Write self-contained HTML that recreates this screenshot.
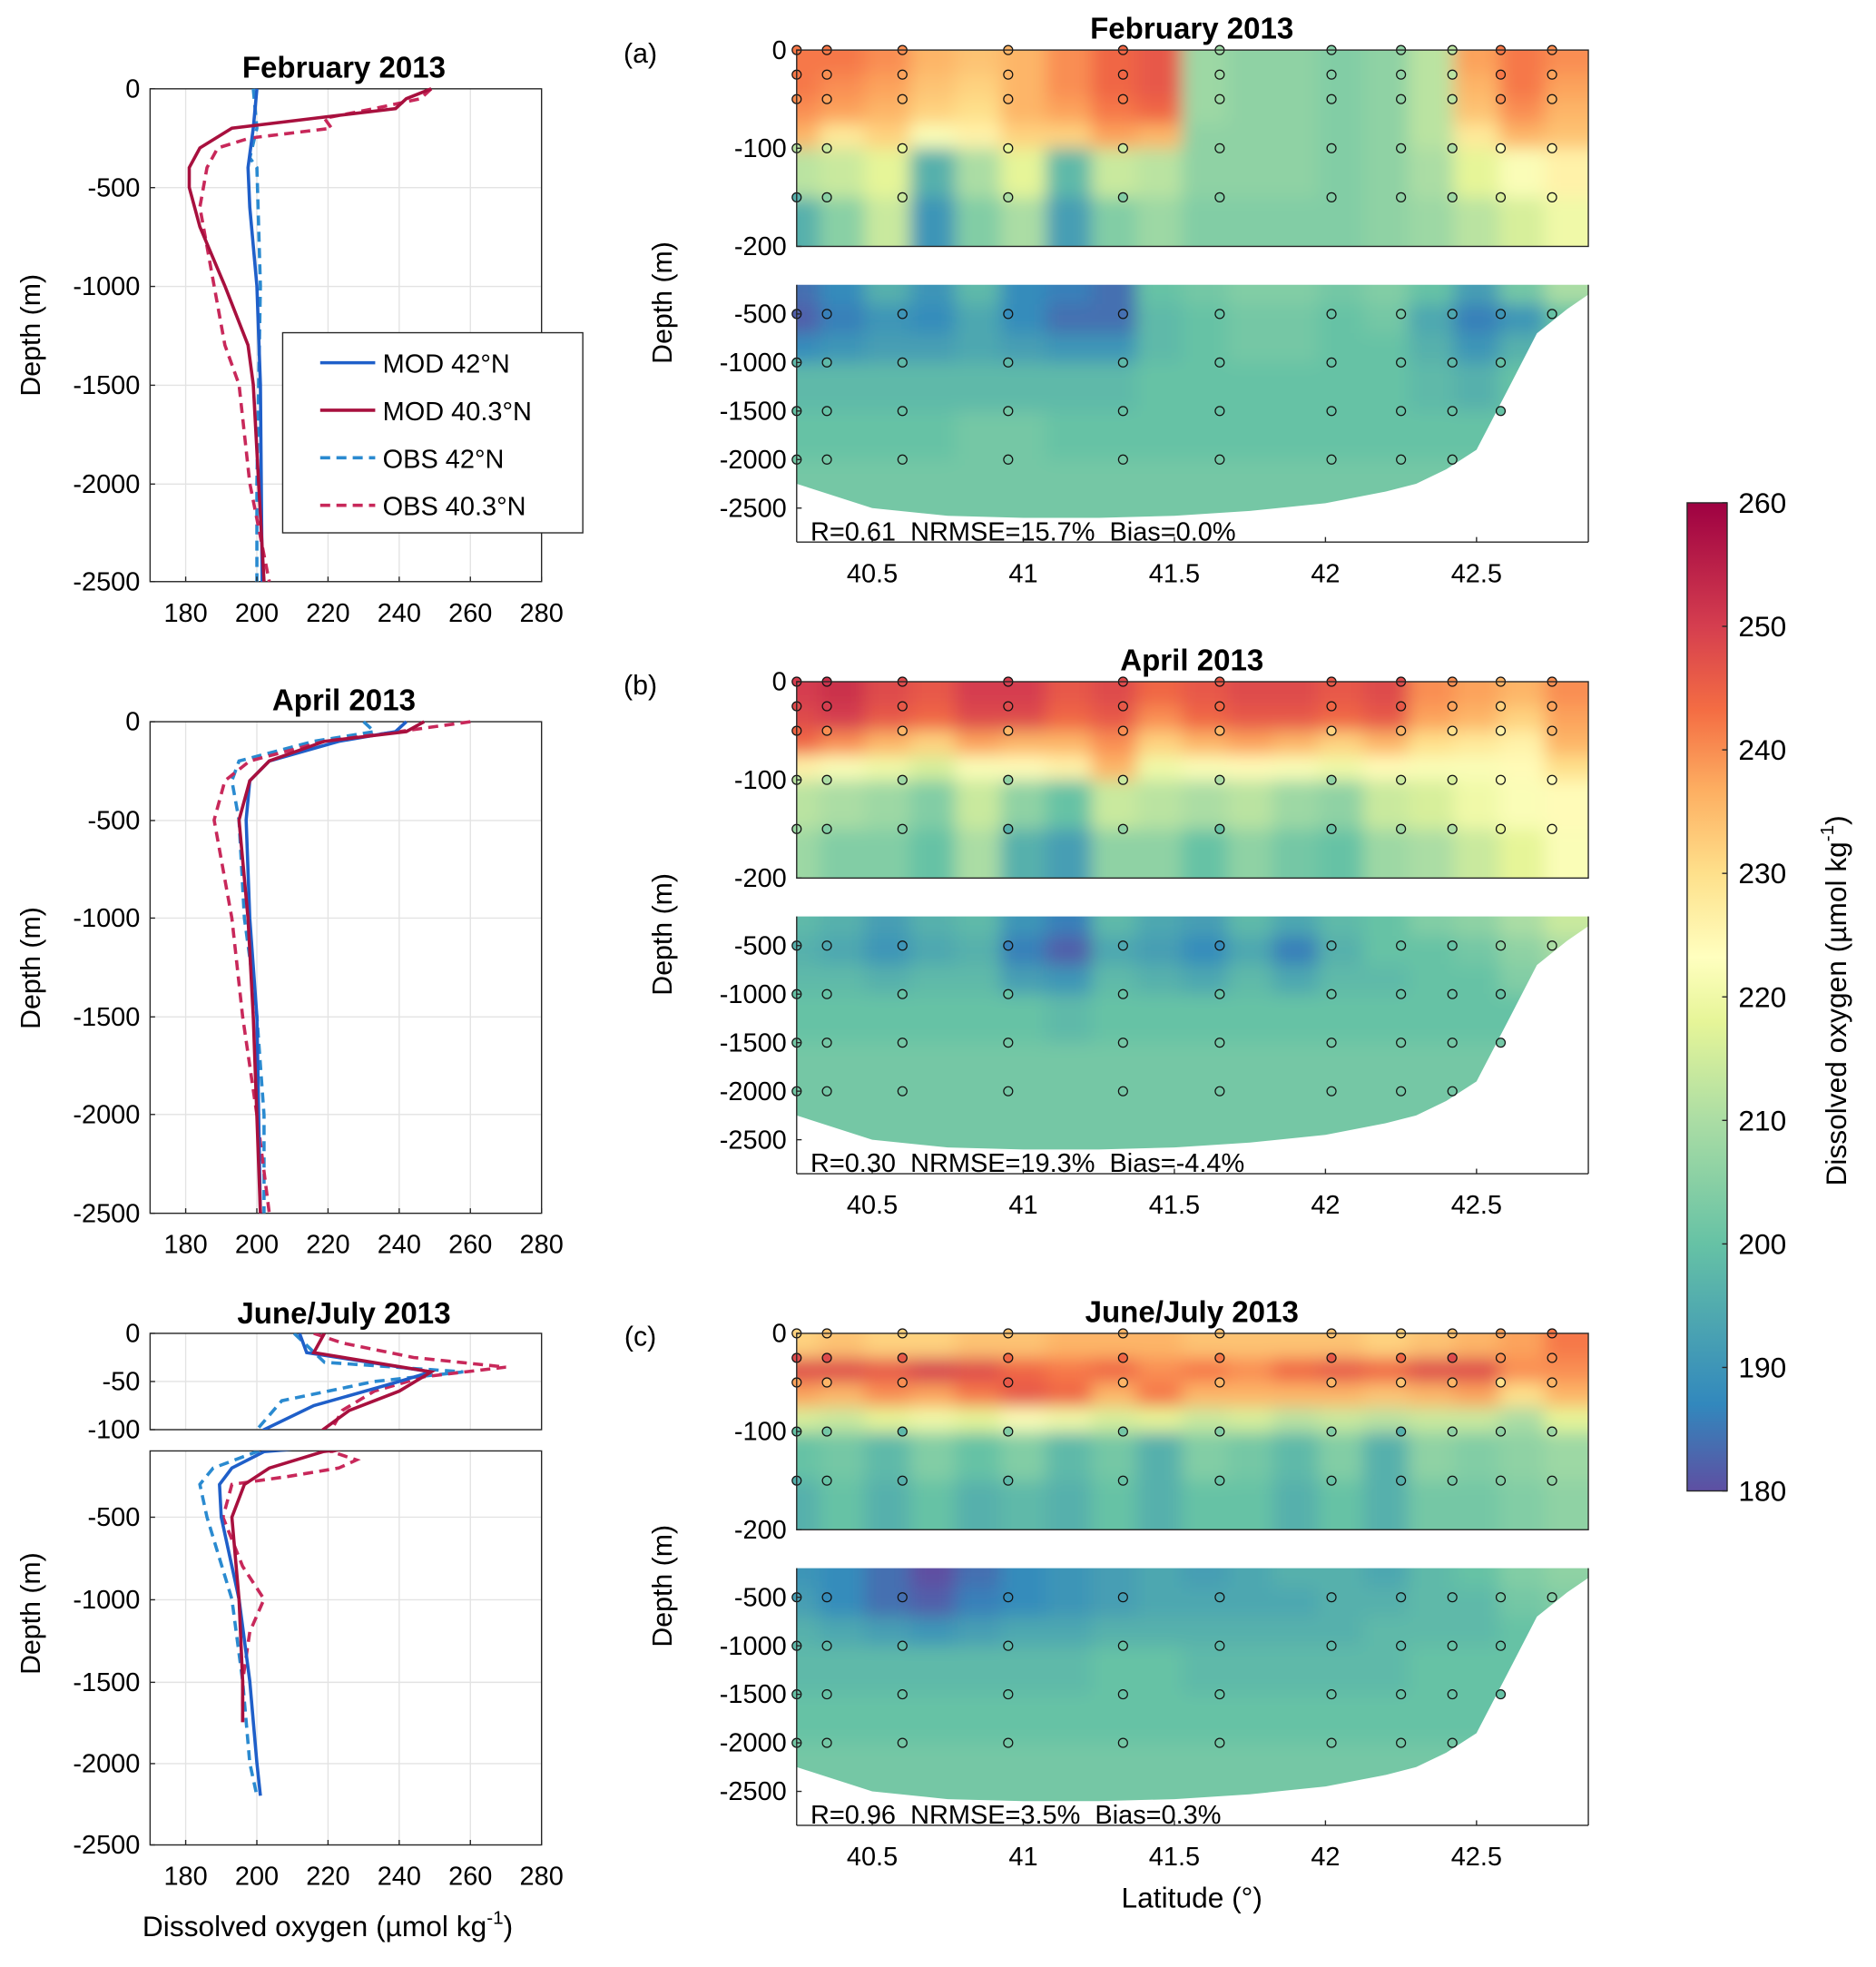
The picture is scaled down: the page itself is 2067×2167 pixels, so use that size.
<!DOCTYPE html>
<html><head><meta charset="utf-8">
<style>
html,body{margin:0;padding:0;background:#fff;overflow:hidden;width:2067px;height:2167px;}
svg{display:block;font-family:"Liberation Sans",Arial,sans-serif;}
text{white-space:pre;}
</style></head>
<body>
<svg id="fig" width="2067" height="2167" viewBox="0 0 1500 1572.6" xmlns="http://www.w3.org/2000/svg">
<defs>
<filter id="blur" x="-5%" y="-5%" width="110%" height="110%"><feGaussianBlur stdDeviation="7"/></filter>
<linearGradient id="cbgrad" x1="0" y1="1" x2="0" y2="0">
<stop offset="0" stop-color="#5e4fa2"/><stop offset="0.0875" stop-color="#3288bd"/><stop offset="0.25" stop-color="#66c2a5"/><stop offset="0.375" stop-color="#abdda4"/><stop offset="0.475" stop-color="#e6f598"/><stop offset="0.54" stop-color="#ffffbf"/><stop offset="0.625" stop-color="#fee08b"/><stop offset="0.71" stop-color="#fdae61"/><stop offset="0.79" stop-color="#f46d43"/><stop offset="0.875" stop-color="#d53e4f"/><stop offset="1" stop-color="#9e0142"/>
</linearGradient>
</defs>
</svg>
<script>
// ---------- DATA ----------
const feb_mod42_d=[0,200,400,600,1000,1500,2500], feb_mod42_v=[200,199,197.5,198,200,201,201.5];
const feb_mod40_d=[0,50,100,150,200,300,400,500,700,1000,1300,1500,2000,2500], feb_mod40_v=[249,242,239,216,193,184,181,181,184,191,197.5,199,200.5,202];
const feb_obs42_d=[0,200,350,400,1000,2000,2500], feb_obs42_v=[199,200,198,200,201,200,200];
const feb_obs40_d=[0,50,100,150,200,250,300,400,600,800,1000,1300,1500,2000,2500], feb_obs40_v=[249,246,233,219,221,198,189,186,184,186,188,191,195,198,203.5];
const apr_mod42_d=[0,50,100,200,300,500,1000,1500,2500], apr_mod42_v=[242,239,223,203.5,198,197,198,200,201];
const apr_mod40_d=[0,50,100,200,300,500,1000,1500,2500], apr_mod40_v=[247,242,219,203.5,198,195,197.5,199,201];
const apr_obs42_d=[0,50,100,200,300,500,1000,1200,1500,2000,2500], apr_obs42_v=[230,233,216,195,193,195,196.5,198,200,202,202];
const apr_obs40_d=[0,50,100,200,300,500,1000,1500,2000,2500], apr_obs40_v=[260,240,219,198,191,188,193,196,200,203.5];
const jun_mod42_d=[0,20,40,50,75,100,200,300,500,1000,1500,2000,2200], jun_mod42_v=[212,214,249,240,216,202,193,189.5,190,195,198,200,201];
const jun_mod40_d=[0,20,40,60,80,100,200,300,500,1000,1500,1750], jun_mod40_v=[219,216,249,240,226,218.6,203.5,196.5,193,195,196,196];
const jun_obs42_d=[0,30,40,50,70,100,200,300,500,1000,1500,2000,2200], jun_obs42_v=[210.5,219,258,233,207,200,187.7,184,186,193,196,198,200];
const jun_obs40_d=[0,10,25,35,45,60,80,100,150,200,250,300,500,800,1000,1200,1500,1750], jun_obs40_v=[216,224,244,270,247,233,224,221,228,223,209,193,190.5,196,202,198,196,196];

const latC=[40.25,40.4,40.55,40.7,40.85,41.0,41.15,41.3,41.45,41.6,41.75,41.9,42.05,42.2,42.35,42.5,42.65,42.8];
const rowEdgesUp=[0,25,50,75,100,150,200];
const rowEdgesLow=[200,400,700,1000,1500,2000,2850];
const secFeb=[
[242,242,240,236,234,236,240,244,246,208,206,206,204,206,212,238,242,240],
[242,240,238,234,232,236,240,244,246,208,206,206,204,206,212,236,242,238],
[240,238,236,232,230,236,238,242,244,208,206,206,204,206,212,234,240,236],
[236,228,232,222,226,232,232,238,236,206,206,206,204,206,212,228,236,234],
[212,214,218,196,210,218,198,214,212,206,206,206,204,206,210,218,222,226],
[196,205,214,190,204,210,192,204,208,204,204,204,204,206,208,212,216,220],
[184,188,196,190,198,188,186,184,200,202,204,204,202,204,200,192,202,210],
[182,186,190,188,194,188,184,184,198,200,202,202,200,202,194,186,190,200],
[188,190,192,192,194,192,190,190,198,200,202,202,200,200,196,190,196,200],
[198,198,198,198,198,198,198,198,200,200,200,200,200,200,198,196,200,200],
[200,200,200,200,202,202,200,200,200,200,200,200,200,200,200,200,200,200],
[202,202,202,202,202,202,202,202,202,202,202,202,202,202,202,202,202,202]];
const secApr=[
[250,252,248,246,250,250,246,248,244,246,248,248,246,248,240,238,236,240],
[248,250,246,244,248,248,244,246,240,244,246,246,244,246,238,236,232,238],
[244,240,236,232,238,236,236,240,232,236,238,236,232,236,230,228,226,236],
[226,222,220,216,222,224,226,236,220,222,224,222,220,224,222,222,224,230],
[212,210,208,204,214,206,200,214,212,210,212,208,206,214,216,220,222,224],
[208,204,204,200,210,196,192,206,206,200,206,202,200,208,210,214,218,222],
[198,196,192,196,198,190,186,198,194,192,198,194,198,200,204,206,210,214],
[196,194,190,194,196,186,182,194,192,188,194,186,196,200,200,202,206,210],
[198,198,196,198,198,192,190,198,196,194,198,194,198,198,200,200,204,206],
[200,200,200,200,200,200,198,200,200,200,200,200,200,200,200,200,200,200],
[202,202,202,202,202,202,202,202,202,202,202,202,202,202,202,202,202,202],
[202,202,202,202,202,202,202,202,202,202,202,202,202,202,202,202,202,202]];
const secJun=[
[232,234,232,232,234,234,236,236,236,234,234,234,234,232,234,236,238,242],
[248,248,246,250,248,244,242,244,240,242,240,244,246,244,248,248,240,240],
[238,236,240,238,242,246,244,236,242,236,236,236,236,234,236,238,230,236],
[216,214,218,220,218,222,220,216,218,214,216,212,214,212,214,214,210,218],
[200,202,198,204,200,204,198,202,196,204,202,198,204,196,206,204,206,208],
[196,200,196,200,196,198,196,200,196,200,200,196,200,196,202,202,204,206],
[190,188,184,180,184,188,190,192,194,192,194,196,196,194,198,200,204,206],
[192,188,184,182,186,188,190,192,194,194,194,194,196,196,198,198,202,204],
[196,194,192,190,192,194,194,196,196,196,196,196,196,198,198,198,200,202],
[198,198,198,198,198,198,198,200,200,198,198,198,198,198,200,200,200,200],
[200,200,200,200,200,200,200,200,200,200,200,200,200,200,200,200,200,200],
[202,202,202,202,202,202,202,202,202,202,202,202,202,202,202,202,202,202]];
const bathLat=[40.25,40.3,40.5,40.75,41.0,41.25,41.5,41.75,42.0,42.2,42.3,42.4,42.5,42.6,42.7,42.8,42.87];
const bathDepth=[2250,2300,2500,2580,2600,2600,2580,2530,2450,2330,2250,2100,1900,1300,700,450,300];
const stLat=[40.25,40.35,40.6,40.95,41.33,41.65,42.02,42.25,42.42,42.58,42.75];
const stDepth=[0,25,50,100,150,500,1000,1500,2000];
const stats=["R=0.61  NRMSE=15.7%  Bias=0.0%","R=0.30  NRMSE=19.3%  Bias=-4.4%","R=0.96  NRMSE=3.5%  Bias=0.3%"];
const depthTicksUp=[0,-100,-200], depthTicksLow=[-500,-1000,-1500,-2000,-2500];
const latTicks=[40.5,41,41.5,42,42.5];
const xTicks=[180,200,220,240,260,280];
const cbTicks=[180,190,200,210,220,230,240,250,260];

// ---------- HELPERS ----------
const NS="http://www.w3.org/2000/svg";
const svg=document.getElementById('fig');
function mk(tag,attrs,parent){const e=document.createElementNS(NS,tag);for(const k in attrs)e.setAttribute(k,attrs[k]);(parent||svg).appendChild(e);return e;}
function txt(s,x,y,size,anchor,parent,extra){const e=mk('text',Object.assign({x:x,y:y,'font-size':size,'text-anchor':anchor||'middle',fill:'#000'},extra||{}),parent);e.textContent=s;return e;}
const stops=[[180,[94,79,162]],[187,[50,136,189]],[200,[102,194,165]],[210,[171,221,164]],[218,[230,245,152]],[223,[255,255,191]],[230,[254,224,139]],[237,[253,174,97]],[243,[244,109,67]],[250,[213,62,79]],[260,[158,1,66]]];
function cmap(v){v=Math.max(180,Math.min(260,v));for(let i=0;i<stops.length-1;i++){const a=stops[i],b=stops[i+1];if(v<=b[0]){const t=(v-a[0])/(b[0]-a[0]);const c=a[1].map((x,j)=>Math.round(x+(b[1][j]-x)*t));return `rgb(${c[0]},${c[1]},${c[2]})`;}}return 'rgb(158,1,66)';}

// ---------- LEFT PROFILES ----------
const lx0=120,lx1=433;
function xv(v){return lx0+(v-170)*(lx1-lx0)/110;}
const colors={mod42:'#1f5fc9',mod40:'#a8103e',obs42:'#2a8ad0',obs40:'#c8285a'};
function drawProfileAxes(g,y0,y1,yt,labels,name){
  const ax=mk('g',{},g);
  
  
  xTicks.forEach(t=>{mk('line',{x1:xv(t),x2:xv(t),y1:y0,y2:y1,stroke:'#e3e3e3','stroke-width':1},ax);});
  yt.forEach(y=>{mk('line',{x1:lx0,x2:lx1,y1:y,y2:y,stroke:'#e3e3e3','stroke-width':1},ax);});
  mk('rect',{x:lx0,y:y0,width:lx1-lx0,height:y1-y0,fill:'none',stroke:'#262626','stroke-width':1},ax);
  yt.forEach((y,i)=>{mk('line',{x1:lx0,x2:lx0+4,y1:y,y2:y,stroke:'#262626'},ax);txt(labels[i],lx0-8,y+7,21,'end',ax);});
  return ax;
}
function drawLine(g,ds,vs,yf,color,dash,name){
  const p=ds.map((d,i)=>(i?'L':'M')+xv(vs[i]).toFixed(1)+' '+yf(d).toFixed(1)).join(' ');
  const e=mk('path',{d:p,fill:'none',stroke:color,'stroke-width':2.6,'stroke-dasharray':dash?'8 5':'none'},g);
  
  
}
function xTickLabels(g,y){xTicks.forEach(t=>{mk('line',{x1:xv(t),x2:xv(t),y1:y,y2:y-4,stroke:'#262626'},g);txt(String(t),xv(t),y+32,21,'middle',g);});}

(function(){
  const g=mk('g',{});
  
  
  const y0=71,y1=465,yf=d=>y0+d*(y1-y0)/2500;
  drawProfileAxes(g,y0,y1,[71,150,229,308,387,465],['0','-500','-1000','-1500','-2000','-2500'],'profile-feb-axes');
  const c=mk('g',{},g);
  drawLine(c,feb_obs42_d,feb_obs42_v,yf,colors.obs42,true,'line-obs-42n');
  drawLine(c,feb_obs40_d,feb_obs40_v,yf,colors.obs40,true,'line-obs-40n');
  drawLine(c,feb_mod42_d,feb_mod42_v,yf,colors.mod42,false,'line-mod-42n');
  drawLine(c,feb_mod40_d,feb_mod40_v,yf,colors.mod40,false,'line-mod-40n');
  xTickLabels(g,y1);
  txt('February 2013',275,62,24,'middle',g,{'font-weight':'bold'});
  txt('Depth (m)',0,0,22,'middle',g,{transform:'translate(32,268) rotate(-90)'});
  const lg=mk('g',{},g);
  
  
  mk('rect',{x:226,y:266,width:240,height:160,fill:'#fff',stroke:'#262626','stroke-width':1},lg);
  const ents=[['MOD 42°N',colors.mod42,false],['MOD 40.3°N',colors.mod40,false],['OBS 42°N',colors.obs42,true],['OBS 40.3°N',colors.obs40,true]];
  ents.forEach((e,i)=>{const y=290+i*38;const le=mk('g',{},lg);
    
    
    mk('line',{x1:256,x2:300,y1:y,y2:y,stroke:e[1],'stroke-width':2.6,'stroke-dasharray':e[2]?'8 5':'none'},le);
    txt(e[0],306,y+8,21,'start',le);});
})();
(function(){
  const g=mk('g',{});
  
  
  const y0=577,y1=970,yf=d=>y0+d*(y1-y0)/2500;
  drawProfileAxes(g,y0,y1,[577,656,734,813,891,970],['0','-500','-1000','-1500','-2000','-2500'],'profile-apr-axes');
  drawLine(g,apr_obs42_d,apr_obs42_v,yf,colors.obs42,true,'line-obs-42n');
  drawLine(g,apr_obs40_d,apr_obs40_v,yf,colors.obs40,true,'line-obs-40n');
  drawLine(g,apr_mod42_d,apr_mod42_v,yf,colors.mod42,false,'line-mod-42n');
  drawLine(g,apr_mod40_d,apr_mod40_v,yf,colors.mod40,false,'line-mod-40n');
  xTickLabels(g,y1);
  txt('April 2013',275,568,24,'middle',g,{'font-weight':'bold'});
  txt('Depth (m)',0,0,22,'middle',g,{transform:'translate(32,774) rotate(-90)'});
})();
(function(){
  const g=mk('g',{});
  
  
  const yu0=1066,yu1=1143,yl0=1160,yl1=1475;
  const yfU=d=>yu0+d*(yu1-yu0)/100;
  const yfL=d=>1213+(d-500)*(65.5/500);
  drawProfileAxes(g,yu0,yu1,[1066,1104.5,1143],['0','-50','-100'],'profile-jun-upper-axes');
  drawProfileAxes(g,yl0,yl1,[1213,1279,1345,1410,1475],['-500','-1000','-1500','-2000','-2500'],'profile-jun-lower-axes');
  const cu=mk('g',{'clip-path':'url(#cjU)'},g);
  const cp=mk('clipPath',{id:'cjU'},svg.querySelector('defs'));mk('rect',{x:lx0,y:yu0,width:lx1-lx0,height:yu1-yu0},cp);
  const cl=mk('g',{'clip-path':'url(#cjL)'},g);
  const cp2=mk('clipPath',{id:'cjL'},svg.querySelector('defs'));mk('rect',{x:lx0,y:yl0,width:lx1-lx0,height:yl1-yl0},cp2);
  [[jun_obs42_d,jun_obs42_v,colors.obs42,true,'line-obs-42n'],[jun_obs40_d,jun_obs40_v,colors.obs40,true,'line-obs-40n'],[jun_mod42_d,jun_mod42_v,colors.mod42,false,'line-mod-42n'],[jun_mod40_d,jun_mod40_v,colors.mod40,false,'line-mod-40n']].forEach(s=>{
    drawLine(cu,s[0],s[1],yfU,s[2],s[3],s[4]+'-upper');
    drawLine(cl,s[0],s[1],yfL,s[2],s[3],s[4]+'-lower');
  });
  xTickLabels(g,yl1);
  txt('June/July 2013',275,1058,24,'middle',g,{'font-weight':'bold'});
  txt('Depth (m)',0,0,22,'middle',g,{transform:'translate(32,1290) rotate(-90)'});
  const xl=txt('Dissolved oxygen (µmol kg',262,1548,23,'middle',g);
  const sup=mk('tspan',{dy:-10,'font-size':15},xl);sup.textContent='-1';
  const cl2=mk('tspan',{dy:10},xl);cl2.textContent=')';
  
  
})();

// ---------- SECTIONS ----------
const rx0=637,rx1=1270;
function latX(l){return rx0+(l-40.25)*(rx1-rx0)/(42.87-40.25);}
function section(off,data,title,letter,stat,name){
  const g=mk('g',{});
  
  
  const yU=d=>40+off+d*(157/200);
  const yL=d=>251+off+(d-500)*(38.8/500);
  const defs=svg.querySelector('defs');
  const cpU=mk('clipPath',{id:name+'U'},defs);mk('rect',{x:rx0,y:yU(0),width:rx1-rx0,height:157},cpU);
  const cpL=mk('clipPath',{id:name+'L'},defs);mk('rect',{x:rx0,y:yL(200),width:rx1-rx0,height:yL(2850)-yL(200)},cpL);
  const edges=[40.1];for(let i=0;i<latC.length-1;i++)edges.push((latC[i]+latC[i+1])/2);edges.push(43.0);
  [[cpU,rowEdgesUp,yU,0,'U'],[cpL,rowEdgesLow,yL,6,'L']].forEach(p=>{
    const cg=mk('g',{'clip-path':`url(#${name+p[4]})`},g);
    const fg=mk('g',{filter:'url(#blur)'},cg);
    for(let r=0;r<6;r++){for(let c=0;c<latC.length;c++){
      let ya=p[2](p[1][r]),yb=p[2](p[1][r+1]);
      if(r==0){ya-=20;} if(r==5){yb+=20;}
      const cell=mk('rect',{x:latX(edges[c]).toFixed(1),y:ya.toFixed(1),width:(latX(edges[c+1])-latX(edges[c])+0.6).toFixed(1),height:(yb-ya+0.6).toFixed(1),fill:cmap(data[p[3]+r][c])},fg);
      
      
    }}
    if(p[4]=='L'){
      let pts=bathLat.map((l,i)=>latX(l).toFixed(1)+','+yL(bathDepth[i]).toFixed(1));
      pts.push(latX(43)+','+yL(bathDepth[bathDepth.length-1]));pts.push(latX(43)+','+(yL(2900)));pts.push(latX(40.1)+','+(yL(2900)));pts.push(latX(40.1)+','+yL(bathDepth[0]));
      const m=mk('polygon',{points:pts.join(' '),fill:'#fff'},cg);
      
      
    }
  });
  stLat.forEach(l=>{
    let ci=0,best=9;latC.forEach((c,i)=>{if(Math.abs(c-l)<best){best=Math.abs(c-l);ci=i;}});
    let bi=0;for(let i=0;i<bathLat.length-1;i++){if(l>=bathLat[i])bi=i;}
    stDepth.forEach(d=>{
      if(d>bathDepth[bi]-100)return;
      let row,y;
      if(d<=200){row=0;while(row<5&&d>=rowEdgesUp[row+1])row++;y=yU(d);}
      else{row=0;while(row<5&&d>=rowEdgesLow[row+1])row++;row+=6;y=yL(d);}
      const dot=mk('circle',{cx:latX(l),cy:y,r:3.6,fill:cmap(data[row][ci]),stroke:'#111','stroke-width':0.9},g);
      
      
    });
  });
  mk('rect',{x:rx0,y:yU(0),width:rx1-rx0,height:157,fill:'none',stroke:'#262626','stroke-width':1},g);
  mk('line',{x1:rx0,x2:rx0,y1:yL(200),y2:yL(2850),stroke:'#262626'},g);
  mk('line',{x1:rx0,x2:rx1,y1:yL(2850),y2:yL(2850),stroke:'#262626'},g);
  mk('line',{x1:rx1,x2:rx1,y1:yL(200),y2:yL(2850),stroke:'#262626'},g);
  depthTicksUp.forEach(t=>{mk('line',{x1:rx0,x2:rx0+4,y1:yU(-t),y2:yU(-t),stroke:'#262626'},g);txt(String(t),rx0-8,yU(-t)+7,21,'end',g);});
  depthTicksLow.forEach(t=>{mk('line',{x1:rx0,x2:rx0+4,y1:yL(-t),y2:yL(-t),stroke:'#262626'},g);txt(String(t),rx0-8,yL(-t)+7,21,'end',g);});
  latTicks.forEach(t=>{mk('line',{x1:latX(t),x2:latX(t),y1:yL(2850),y2:yL(2850)-4,stroke:'#262626'},g);txt(String(t),latX(t),yL(2850)+32,21,'middle',g);});
  txt(title,953,off+31,24,'middle',g,{'font-weight':'bold'});
  txt(letter,512,off+50,22,'middle',g);
  txt(stat,648,off+432,21,'start',g,{'xml:space':'preserve'});
  txt('Depth (m)',0,0,22,'middle',g,{transform:`translate(537,${off+242}) rotate(-90)`});
}
section(0,secFeb,'February 2013','(a)',stats[0],'section-feb');
section(505,secApr,'April 2013','(b)',stats[1],'section-apr');
section(1026,secJun,'June/July 2013','(c)',stats[2],'section-jun');
(function(){const t=txt('Latitude (°)',953,1525,23,'middle');

})();

// ---------- COLORBAR ----------
(function(){
  const g=mk('g',{});
  
  
  mk('rect',{x:1349,y:402,width:32,height:790,fill:'url(#cbgrad)',stroke:'#262626','stroke-width':1},g);
  cbTicks.forEach(t=>{const y=1192-(t-180)*790/80;mk('line',{x1:1377,x2:1381,y1:y,y2:y,stroke:'#262626'},g);txt(String(t),1390,y+8,23,'start',g);});
  const l=txt('Dissolved oxygen (µmol kg',0,0,23,'middle',g,{transform:'translate(1476,800) rotate(-90)'});
  const s=mk('tspan',{dy:-10,'font-size':15},l);s.textContent='-1';
  const c=mk('tspan',{dy:10},l);c.textContent=')';
})();
</script>
</body></html>
